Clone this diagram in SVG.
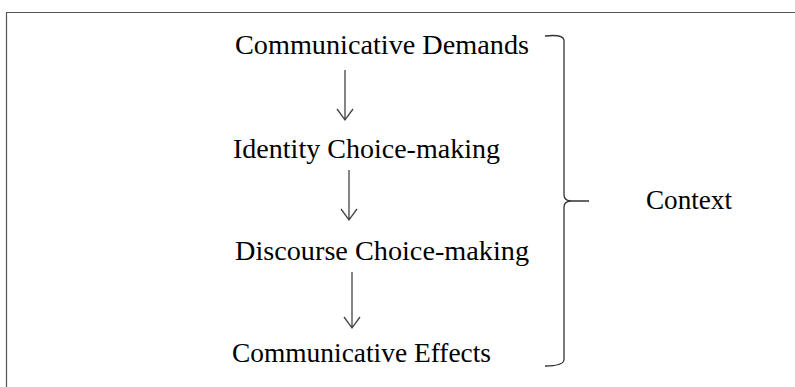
<svg xmlns="http://www.w3.org/2000/svg" width="795" height="387" viewBox="0 0 795 387">
<style>
.t{font-family:"Liberation Serif","Times New Roman",serif;font-size:27px;fill:#000}
.c{stroke:#444;stroke-width:1.3;fill:none}
.b{stroke:#333;stroke-width:1.3;fill:none}
</style>
<rect width="795" height="387" fill="#fff"/>
<path d="M6.5,387 V12.5 H795" stroke="#555" stroke-width="1.2" fill="none"/>
<g id="n1"><text class="t" x="235" y="54" textLength="294" lengthAdjust="spacingAndGlyphs">Communicative Demands</text></g>
<g id="n2"><text class="t" x="233" y="158" textLength="267" lengthAdjust="spacingAndGlyphs">Identity Choice-making</text></g>
<g id="n3"><text class="t" x="235" y="260" textLength="294" lengthAdjust="spacingAndGlyphs">Discourse Choice-making</text></g>
<g id="n4"><text class="t" x="232" y="362" textLength="259" lengthAdjust="spacingAndGlyphs">Communicative Effects</text></g>
<g id="context"><text class="t" x="646" y="209" textLength="86" lengthAdjust="spacingAndGlyphs">Context</text></g>
<g id="brace"><path class="b" d="M545,36 Q563,34 564,40 V195 Q564,201 572,201 H589 M572,201 Q564,201 564,207 V360 Q563,366 545,366"/></g>
<g id="connectors">
<path class="c" d="M345,70 V120 M337,109 L345,120 L353,109"/>
<path class="c" d="M349,170 V220 M341,209 L349,220 L357,209"/>
<path class="c" d="M352,272 V328 M344,317 L352,328 L360,317"/>
</g>
</svg>
